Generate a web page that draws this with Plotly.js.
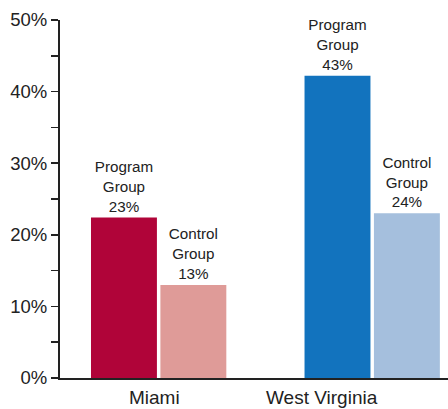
<!DOCTYPE html>
<html>
<head>
<meta charset="utf-8">
<script src="https://cdn.plot.ly/plotly-3.0.1.min.js"></script>
<style>html,body{margin:0;padding:0;background:#fff;}#chart{width:448px;height:409px;}</style>
</head>
<body>
<div id="chart"></div>
<script>
const sites = ['Miami', 'West Virginia'];
const programValues = [22.4, 42.2];
const controlValues = [13.0, 23.0];
const programLabels = ['23%', '43%'];
const controlLabels = ['13%', '24%'];
const programColors = ['#B00439', '#1273BE'];
const controlColors = ['#DF9B98', '#A5BFDD'];
const yTickVals = [0, 10, 20, 30, 40, 50];
const yTickText = ['0%', '10%', '20%', '30%', '40%', '50%'];

const FONT = 'Liberation Sans, Arial, sans-serif';
const TXT = '#222222';

const traces = [
  {
    type: 'bar', name: 'Program Group', x: sites, y: programValues,
    marker: {color: programColors},
    text: programLabels.map(l => 'Program<br>Group<br>' + l),
    textposition: 'outside', constraintext: 'none', cliponaxis: false,
    textfont: {family: FONT, size: 15.2, color: TXT},
    hoverinfo: 'none'
  },
  {
    type: 'bar', name: 'Control Group', x: sites, y: controlValues,
    marker: {color: controlColors},
    text: controlLabels.map(l => 'Control<br>Group<br>' + l),
    textposition: 'outside', constraintext: 'none', cliponaxis: false,
    textfont: {family: FONT, size: 15.2, color: TXT},
    hoverinfo: 'none'
  }
];

const layout = {
  width: 448, height: 409,
  margin: {l: 60, r: 0, t: 20, b: 31},
  paper_bgcolor: '#fff', plot_bgcolor: '#fff',
  showlegend: false,
  barmode: 'group', bargap: 0.35, bargroupgap: 0.05,
  font: {family: FONT, color: TXT},
  xaxis: {
    type: 'category', range: [-0.462, 1.355], fixedrange: true,
    showticklabels: false, ticks: '', showgrid: false, zeroline: false,
    showline: true, linecolor: '#222', linewidth: 2
  },
  yaxis: {
    range: [0, 50], fixedrange: true,
    tickmode: 'array', tickvals: yTickVals, ticktext: yTickText,
    ticks: 'outside', ticklen: 7, tickwidth: 1.5, tickcolor: '#222',
    tickfont: {family: FONT, size: 18.5, color: TXT},
    showgrid: false, zeroline: false,
    showline: true, linecolor: '#222', linewidth: 2,
    minor: {tickmode: 'linear', tick0: 0, dtick: 5, ticks: 'outside', ticklen: 7, tickwidth: 1.5, tickcolor: '#222', showgrid: false}
  },
  annotations: sites.map((s, i) => ({
    xref: 'x', yref: 'paper', x: s, y: 0, yanchor: 'top', xanchor: 'center',
    text: s, showarrow: false, yshift: -7, xshift: i === 0 ? -4 : -50,
    font: {family: FONT, size: 19, color: TXT}
  }))
};

Plotly.newPlot('chart', traces, layout, {displayModeBar: false, staticPlot: true});
</script>
</body>
</html>
